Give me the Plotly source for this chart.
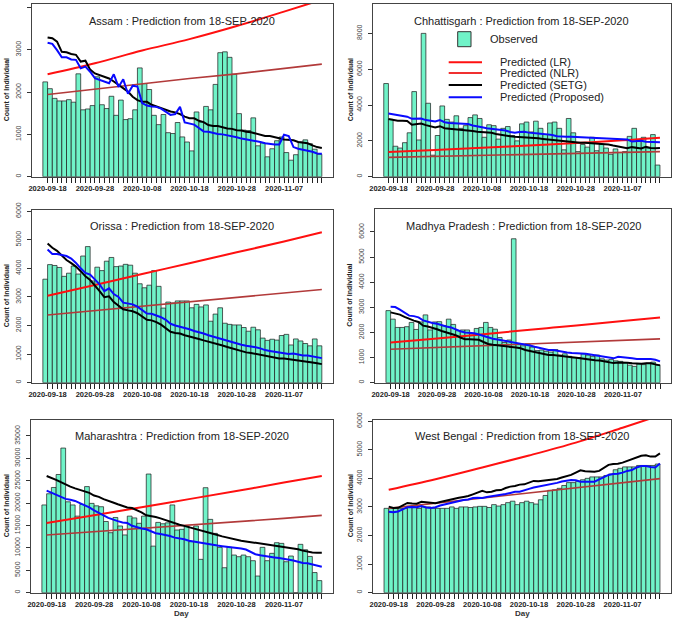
import plotly.graph_objects as go

FONT = "Liberation Sans, Arial, Helvetica, sans-serif"
W, H = 676, 620

# ---------------- data ----------------
DAYS = list(range(59))                      # day index 0 = 2020-09-18
LABEL_DAYS = [0, 10, 20, 30, 40, 50]
DATE_LABELS = ["2020-09-18", "2020-09-28", "2020-10-08",
               "2020-10-18", "2020-10-28", "2020-11-07"]
TREND_DAYS = [0, 10, 20, 30, 40, 50, 58]    # sampled days for the smooth LR / NLR curves

STATES = ["Assam", "Chhattisgarh", "Orissa", "Madhya Pradesh", "Maharashtra", "West Bengal"]

assam_obs = [2240, 2080, 1850, 1790, 1790, 1820, 1760, 2430, 1580, 1600,
             1680, 2360, 1700, 1610, 1900, 1450, 1810, 1350, 1370, 1580,
             2570, 2200, 2060, 1450, 1230, 1470, 1040, 1020, 1280, 940,
             820, 610, 1530, 1290, 1660, 1580, 2180, 2930, 2950, 2820,
             2420, 1490, 1100, 1090, 1390, 730, 800, 470, 660, 850,
             940, 570, 390, 520, 820, 870, 780, 650, 530]
assam_lr = [2420, 2680, 2980, 3250, 3560, 3900, 4180]
assam_nlr = [1940, 2070, 2200, 2320, 2430, 2550, 2660]
assam_setg = [3290, 3270, 3190, 2950, 2940, 2900, 2880, 2720, 2740, 2530,
              2440, 2400, 2360, 2320, 2250, 2170, 2090, 2010, 1890, 1810,
              1770, 1770, 1700, 1660, 1620, 1580, 1540, 1520, 1480, 1420,
              1380, 1380, 1320, 1290, 1220, 1200, 1200, 1170, 1140, 1130,
              1100, 1090, 1060, 1050, 1020, 990, 960, 960, 940, 910,
              880, 870, 860, 820, 800, 790, 740, 700, 680]
assam_prop = [3165, 3140, 2990, 2820, 2820, 2770, 2760, 2560, 2600, 2480,
              2330, 2290, 2250, 2210, 2420, 2120, 2300, 1960, 2150, 2130,
              1740, 1680, 1660, 1650, 1610, 1530, 1460, 1480, 1650, 1280,
              1250, 1230, 1150, 1070, 1060, 1030, 1010, 1000, 980, 960,
              930, 900, 880, 870, 840, 820, 790, 770, 760, 760,
              990, 960, 700, 660, 640, 610, 590, 550, 540]

chh_obs = [5200, 3200, 1700, 1600, 1900, 2450, 4750, 2050, 8000, 4100,
           1200, 2300, 3950, 3200, 3050, 3400, 2700, 2850, 3300, 3450,
           3250, 2200, 2900, 2850, 2100, 2700, 2800, 2300, 2000, 2950,
           3050, 2500, 3100, 2700, 2350, 3000, 3050, 2700, 1500, 3250,
           2450, 1400, 1800, 1650, 2200, 1450, 1800, 1600, 1250, 1550,
           1350, 1400, 2250, 2700, 2050, 2200, 1600, 2350, 650]
chh_lr = [1380, 1490, 1610, 1740, 1880, 2030, 2180]
chh_nlr = [1080, 1130, 1190, 1240, 1300, 1350, 1400]
chh_setg = [3220, 3170, 3130, 3125, 3110, 2900, 2920, 2970, 2880, 2800,
            2750, 2820, 2710, 2680, 2660, 2650, 2620, 2600, 2550, 2510,
            2490, 2470, 2450, 2380, 2330, 2300, 2260, 2230, 2220, 2200,
            2190, 2170, 2140, 2110, 2080, 2050, 2020, 1990, 1960, 1940,
            1920, 1900, 1890, 1870, 1860, 1850, 1830, 1800, 1740, 1690,
            1640, 1590, 1650, 1620, 1580, 1670, 1600, 1590, 1600]
chh_prop = [3530, 3480, 3440, 3400, 3350, 3230, 3250, 3250, 3160, 3100,
            3080, 3160, 3040, 3000, 2980, 2970, 2950, 2940, 2860, 2790,
            2760, 2710, 2680, 2660, 2640, 2580, 2500, 2460, 2490, 2510,
            2460, 2420, 2410, 2390, 2380, 2330, 2260, 2230, 2230, 2230,
            2220, 2210, 2200, 2180, 2160, 2140, 2140, 2140, 2140, 2120,
            2100, 2080, 1960, 1980, 2010, 1950, 1940, 1930, 1920]

orissa_obs = [3620, 4130, 4100, 4030, 3720, 3830, 4080, 3800, 4430, 4760,
              3560, 4040, 3920, 4250, 4380, 4060, 4080, 4140, 4110, 3830,
              3460, 3320, 3410, 3920, 3370, 2610, 2820, 2790, 2860, 2860,
              2860, 2620, 2740, 2650, 2720, 2150, 2400, 2620, 2080, 2040,
              2020, 2020, 1930, 1800, 1940, 1850, 1560, 1480, 1520, 1490,
              1650, 1690, 1320, 1530, 1460, 1370, 1290, 1530, 1290]
orissa_lr = [3040, 3420, 3800, 4180, 4560, 4940, 5260]
orissa_nlr = [2370, 2520, 2680, 2830, 2980, 3130, 3260]
orissa_setg = [4870, 4720, 4610, 4450, 4290, 4180, 4060, 3900, 3720, 3590,
               3410, 3200, 2990, 3020, 2820, 2710, 2570, 2530, 2500, 2430,
               2320, 2200, 2180, 2120, 2030, 1920, 1780, 1740, 1720, 1660,
               1620, 1590, 1530, 1480, 1440, 1400, 1360, 1300, 1250, 1200,
               1150, 1110, 1060, 1040, 1010, 980, 930, 900, 880, 850,
               850, 830, 790, 780, 770, 750, 710, 680, 650]
orissa_prop = [4660, 4500, 4500, 4470, 4430, 4340, 4190, 4000, 3840, 3780,
               3620, 3440, 3200, 3300, 3100, 3000, 2800, 2760, 2740, 2660,
               2540, 2420, 2410, 2360, 2290, 2200, 2060, 2000, 1960, 1920,
               1870, 1810, 1770, 1720, 1660, 1610, 1570, 1530, 1480, 1420,
               1370, 1330, 1290, 1270, 1240, 1200, 1140, 1110, 1080, 1050,
               1020, 1000, 1020, 980, 955, 950, 920, 890, 860]

mp_obs = [2870, 2530, 2200, 2200, 2230, 2400, 2120, 2420, 2700, 2100,
          2420, 2430, 2270, 2530, 2320, 2070, 2100, 2100, 1950, 2160,
          2200, 2400, 2200, 2130, 1800, 1600, 1700, 5730, 1520, 1470,
          1550, 1420, 1280, 1300, 1250, 1220, 1320, 1100, 1150, 1050,
          1000, 1000, 1150, 1100, 1050, 1100, 950, 900, 920, 870,
          850, 800, 700, 650, 750, 720, 780, 820, 700]
mp_lr = [1600, 1760, 1930, 2110, 2280, 2460, 2600]
mp_nlr = [1330, 1400, 1470, 1540, 1610, 1680, 1745]
mp_setg = [2800, 2770, 2710, 2620, 2530, 2470, 2420, 2270, 2240, 2200,
           2130, 2060, 2010, 1970, 1890, 1800, 1730, 1730, 1730, 1710,
           1620, 1540, 1510, 1480, 1460, 1440, 1420, 1400, 1370, 1300,
           1260, 1230, 1210, 1150, 1100, 1100, 1070, 1040, 1010, 1010,
           990, 960, 940, 910, 890, 880, 850, 800, 780, 800,
           800, 790, 770, 750, 750, 770, 770, 730, 690]
mp_prop = [3020, 3010, 2910, 2790, 2670, 2650, 2600, 2480, 2420, 2380,
           2350, 2280, 2240, 2200, 2120, 2050, 2000, 1990, 1970, 1920,
           1860, 1800, 1750, 1720, 1690, 1650, 1620, 1580, 1540, 1510,
           1480, 1430, 1380, 1330, 1300, 1300, 1260, 1230, 1200, 1180,
           1170, 1170, 1150, 1120, 1090, 1060, 1050, 1010, 970, 1030,
           1020, 1000, 970, 940, 940, 960, 940, 910, 850]

mah_obs = [19600, 22100, 23500, 26400, 32300, 20300, 19600, 17100, 19700, 23700,
           19950, 19400, 19200, 15900, 13400, 16800, 14900, 12900, 17100, 16700,
           15500, 17100, 26500, 10400, 15700, 15400, 15600, 19600, 14000, 14150,
           14900, 11400, 14900, 7450, 23450, 16380, 13250, 10130, 5580, 10130,
           8410, 8040, 8410, 8040, 7150, 3720, 10130, 7150, 8790, 11170,
           11020, 6920, 8190, 0, 10800, 9600, 8100, 4500, 2700]
mah_lr = [15560, 17300, 19100, 20900, 22700, 24600, 26060]
mah_nlr = [12880, 13600, 14350, 15100, 15850, 16600, 17270]
mah_setg = [26060, 25700, 25200, 24700, 24150, 23700, 23300, 22950, 22700, 22300,
            21700, 21400, 20900, 20450, 20150, 19750, 19400, 19050, 18900, 18500,
            17950, 17300, 17130, 16900, 16600, 16200, 15800, 15400, 15170, 14930,
            14650, 14400, 14050, 13770, 13600, 13200, 12880, 12580, 12320, 12050,
            11800, 11600, 11460, 11300, 11100, 10900, 10870, 10600, 10420, 10320,
            10200, 10100, 9950, 9700, 9400, 9180, 9000, 8950, 8940]
mah_prop = [22780, 22350, 21930, 21400, 20950, 20760, 20500, 20000, 19580, 19050,
            18400, 17900, 17280, 16700, 16270, 15980, 15700, 15560, 14950, 14580,
            14340, 14180, 13700, 13280, 13100, 12950, 12650, 12300, 12170, 11950,
            11600, 11400, 11250, 11060, 10850, 10700, 10540, 10390, 10270, 10180,
            10050, 9880, 9640, 9100, 8600, 8380, 8170, 7990, 7880, 7730,
            7570, 7400, 7200, 6920, 6650, 6560, 6320, 6050, 5810]

wb_obs = [2950, 2950, 2950, 2950, 2950, 3000, 3000, 2950, 3000, 3000,
          2950, 2950, 2950, 2950, 3000, 2950, 3000, 3000, 2980, 3000,
          3020, 3020, 2980, 3080, 3030, 3080, 3150, 3200, 3080, 3150,
          3200, 3150, 3100, 3250, 3400, 3580, 3600, 3650, 3750, 3850,
          3850, 3900, 3950, 4000, 4050, 4050, 4050, 4100, 4150, 4300,
          4350, 4400, 4400, 4400, 4450, 4450, 4450, 4450, 4500]
wb_lr = [3600, 3970, 4380, 4800, 5250, 5770, 6200]
wb_nlr = [2950, 3130, 3310, 3490, 3670, 3850, 3990]
wb_setg = [3010, 2960, 2970, 3060, 3140, 3120, 3110, 3180, 3170, 3140,
           3130, 3170, 3210, 3260, 3300, 3320, 3350, 3380, 3440, 3510,
           3560, 3510, 3530, 3580, 3590, 3660, 3710, 3730, 3780, 3790,
           3850, 3910, 3900, 3920, 3940, 3950, 3980, 4030, 4070, 4120,
           4200, 4280, 4250, 4230, 4230, 4260, 4360, 4470, 4500, 4510,
           4550, 4610, 4670, 4730, 4790, 4810, 4760, 4760, 4870]
wb_prop = [2830, 2810, 2840, 2910, 2990, 3000, 2990, 3030, 2980, 2960,
           2990, 3050, 3090, 3140, 3170, 3200, 3240, 3260, 3310, 3320,
           3310, 3350, 3370, 3390, 3410, 3450, 3490, 3530, 3530, 3570,
           3630, 3680, 3710, 3740, 3760, 3800, 3840, 3890, 3910, 3940,
           3930, 3880, 3880, 3880, 3880, 3960, 4050, 4120, 4150, 4160,
           4200, 4260, 4290, 4380, 4430, 4430, 4400, 4380, 4520]

Y_TICKS = {
    "Assam": [0, 1000, 2000, 3000, 4000],
    "Chhattisgarh": [0, 2000, 4000, 6000, 8000],
    "Orissa": [0, 1000, 2000, 3000, 4000, 5000, 6000],
    "Madhya Pradesh": [0, 1000, 2000, 3000, 4000, 5000, 6000],
    "Maharashtra": [0, 5000, 10000, 15000, 20000, 25000, 30000, 35000],
    "West Bengal": [0, 1000, 2000, 3000, 4000, 5000, 6000],
}
LEGEND_LABELS = ["Observed", "Predicted (LR)", "Predicted (NLR)",
                 "Predicted (SETG)", "Predicted (Proposed)"]

# ---------------- styling / layout ----------------
OBS_FILL = "#70F3C8"
OBS_EDGE = "rgba(30,30,30,0.72)"
LR_COLOR = "#FF1010"
NLR_COLOR = "#B23A3A"
SETG_COLOR = "#000000"
PROP_COLOR = "#0A0AFF"

# panel boxes in pixels: left, top, right, bottom ; y-range top
PANELS = [
    dict(obs=assam_obs, lr=assam_lr, nlr=assam_nlr, setg=assam_setg, prop=assam_prop,
         box=(31.7, 4, 333, 176.7), ymax=4080),
    dict(obs=chh_obs, lr=chh_lr, nlr=chh_nlr, setg=chh_setg, prop=chh_prop,
         box=(372.7, 4, 671, 176.7), ymax=9640),
    dict(obs=orissa_obs, lr=orissa_lr, nlr=orissa_nlr, setg=orissa_setg, prop=orissa_prop,
         box=(31.7, 210, 333, 382.7), ymax=6040),
    dict(obs=mp_obs, lr=mp_lr, nlr=mp_nlr, setg=mp_setg, prop=mp_prop,
         box=(375, 209, 671, 382.7), ymax=6915),
    dict(obs=mah_obs, lr=mah_lr, nlr=mah_nlr, setg=mah_setg, prop=mah_prop,
         box=(30.7, 420, 333, 592.7), ymax=38570),
    dict(obs=wb_obs, lr=wb_lr, nlr=wb_nlr, setg=wb_setg, prop=wb_prop,
         box=(373, 420, 671, 592.7), ymax=6040),
]


def px(x):
    return x / W


def py(y):
    return 1 - y / H


fig = go.Figure()
annotations = []
shapes = []
layout_axes = {}

x_ticktext = [f"<b>{DATE_LABELS[LABEL_DAYS.index(d)]}</b>" if d in LABEL_DAYS else ""
              for d in DAYS]

for i, (state, p) in enumerate(zip(STATES, PANELS), start=1):
    xa = "x" if i == 1 else f"x{i}"
    ya = "y" if i == 1 else f"y{i}"
    l, t, r, b = p["box"]

    fig.add_trace(go.Bar(
        x=[d - 0.5 for d in DAYS], y=p["obs"], width=1,
        xaxis=xa, yaxis=ya, showlegend=False, hoverinfo="skip",
        marker=dict(color=OBS_FILL, line=dict(color=OBS_EDGE, width=1)),
    ))
    fig.add_trace(go.Scatter(x=TREND_DAYS, y=p["nlr"], mode="lines", xaxis=xa, yaxis=ya,
                             line=dict(color=NLR_COLOR, width=1.6), showlegend=False))
    fig.add_trace(go.Scatter(x=TREND_DAYS, y=p["lr"], mode="lines", xaxis=xa, yaxis=ya,
                             line=dict(color=LR_COLOR, width=2, shape="spline"), showlegend=False))
    fig.add_trace(go.Scatter(x=DAYS, y=p["setg"], mode="lines", xaxis=xa, yaxis=ya,
                             line=dict(color=SETG_COLOR, width=2), showlegend=False))
    fig.add_trace(go.Scatter(x=DAYS, y=p["prop"], mode="lines", xaxis=xa, yaxis=ya,
                             line=dict(color=PROP_COLOR, width=2), showlegend=False))

    xkey = "xaxis" if i == 1 else f"xaxis{i}"
    ykey = "yaxis" if i == 1 else f"yaxis{i}"
    layout_axes[xkey] = dict(
        domain=[px(l), px(r)], range=[-3.36, 60.36], anchor=ya, automargin=False,
        tickmode="array", tickvals=DAYS, ticktext=x_ticktext, tickangle=0,
        ticks="outside", ticklen=5, tickwidth=1, tickcolor="#222",
        ticklabelstandoff=-1,
        tickfont=dict(size=7.5, color="#222", family=FONT),
        showline=True, linecolor="#444", linewidth=1, mirror=True,
        showgrid=False, zeroline=False, fixedrange=True,
    )
    yt = Y_TICKS[state]
    layout_axes[ykey] = dict(
        domain=[py(b), py(t)], range=[0, p["ymax"]], anchor=xa, automargin=False,
        tickmode="array", tickvals=yt, ticktext=[str(v) for v in yt], tickangle=-90,
        ticks="outside", ticklen=4, tickwidth=1, tickcolor="#333",
        ticklabelstandoff=3,
        tickfont=dict(size=7, color="#444", family=FONT),
        showline=True, linecolor="#444", linewidth=1, mirror=True,
        showgrid=False, zeroline=False, fixedrange=True,
    )

    # panel title
    annotations.append(dict(
        x=px((l + r) / 2), y=py(t + 16.5), xref="paper", yref="paper",
        text=f"{state} : Prediction from 18-SEP-2020", showarrow=False,
        font=dict(size=11, color="#222", family=FONT), xanchor="center", yanchor="middle",
    ))
    # y axis title
    ytx = 6 if l < 100 else 350
    annotations.append(dict(
        x=px(ytx), y=py((t + b) / 2), xref="paper", yref="paper",
        text="<b>Count of Individual</b>", showarrow=False, textangle=-90,
        font=dict(size=7, color="#222", family=FONT), xanchor="center", yanchor="middle",
    ))
    if i >= 5:
        annotations.append(dict(
            x=px((l + r) / 2), y=py(613), xref="paper", yref="paper",
            text="<b>Day</b>", showarrow=False,
            font=dict(size=8, color="#333", family=FONT), xanchor="center", yanchor="middle",
        ))

# ---------------- legend (in Chhattisgarh panel) ----------------
shapes.append(dict(type="rect", xref="paper", yref="paper",
                   x0=px(457.7), x1=px(471), y0=py(46.7), y1=py(31.7),
                   fillcolor=OBS_FILL, line=dict(color="#333", width=1)))
annotations.append(dict(x=px(487.7), y=py(39.3), xref="paper", yref="paper",
                        text=LEGEND_LABELS[0], showarrow=False, xanchor="left", yanchor="middle",
                        font=dict(size=11, color="#222", family=FONT)))
leg_rows = [(62.3, "#FF1010"), (73.0, "#F03030"), (85.0, SETG_COLOR), (97.3, PROP_COLOR)]
for (yy, col), label in zip(leg_rows, LEGEND_LABELS[1:]):
    shapes.append(dict(type="line", xref="paper", yref="paper",
                       x0=px(448.7), x1=px(482), y0=py(yy), y1=py(yy),
                       line=dict(color=col, width=2)))
    annotations.append(dict(x=px(498.3), y=py(yy), xref="paper", yref="paper",
                            text=label, showarrow=False, xanchor="left", yanchor="middle",
                            font=dict(size=11, color="#222", family=FONT)))

fig.update_layout(
    width=W, height=H, margin=dict(l=0, r=0, t=0, b=0, autoexpand=False),
    paper_bgcolor="white", plot_bgcolor="white",
    bargap=0, barmode="overlay", showlegend=False, hovermode=False,
    font=dict(family=FONT, color="#222"),
    annotations=annotations, shapes=shapes,
    **layout_axes,
)

fig.write_html(
    "out.html",
    config={"displayModeBar": False, "staticPlot": True},
    post_script="document.body.style.margin='0';document.body.style.overflow='hidden';",
)
